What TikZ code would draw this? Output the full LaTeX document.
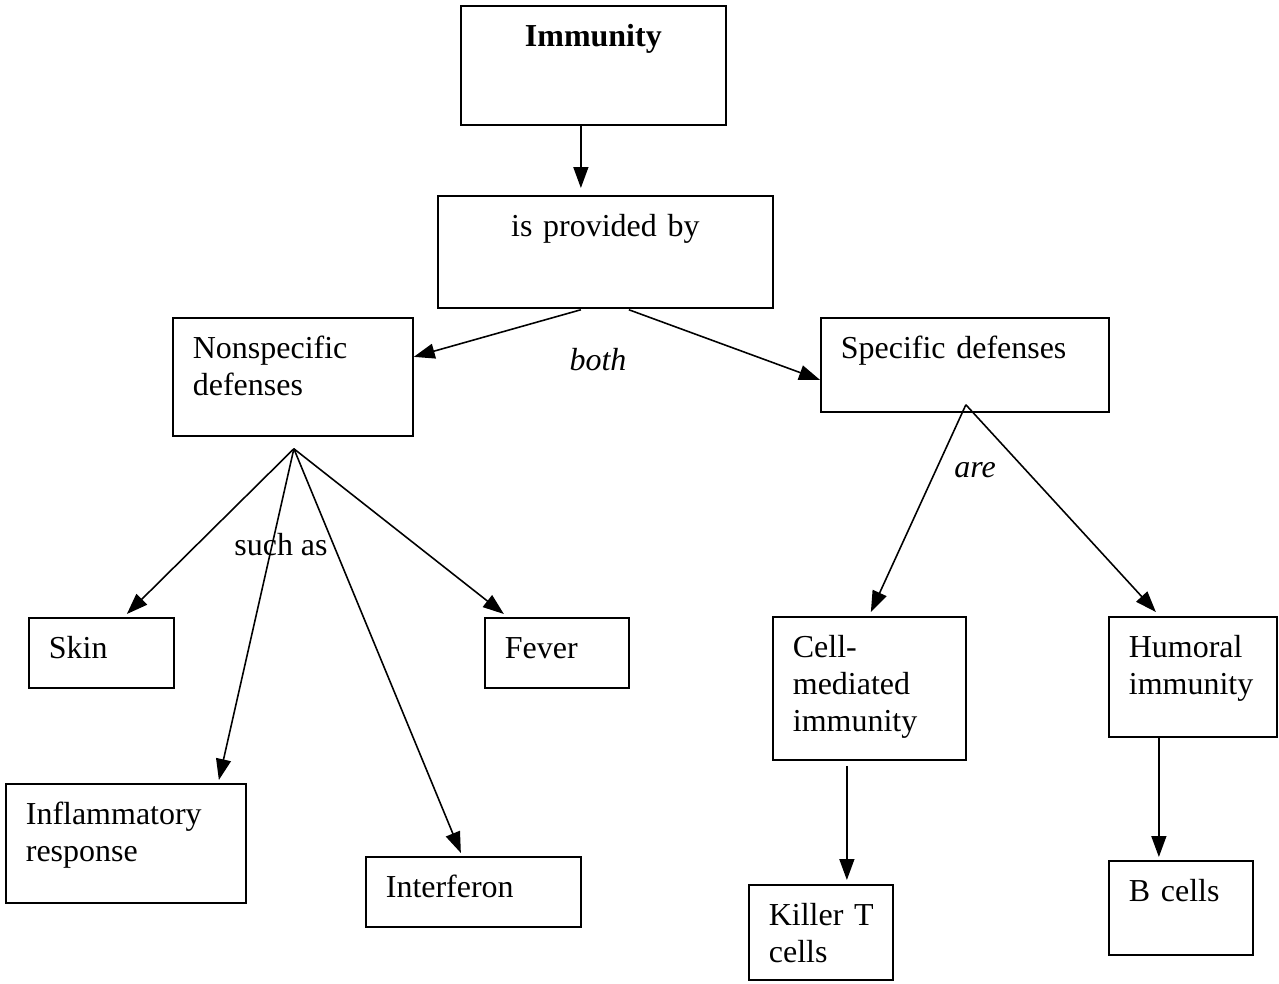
\documentclass[tikz,border=0pt]{standalone}
\usepackage{fontspec}
\setmainfont{Liberation Serif}
\usetikzlibrary{arrows.meta,calc}
\newcommand{\mybox}[7][left]{%
  \pgfmathsetlengthmacro{\tw}{(#5-40)*0.02cm}%
  \pgfmathsetlengthmacro{\td}{(#6-42)*0.02cm}%
  \node[box, align=#1, text width=\tw, text depth=\td] (#2) at (#3,#4) {#7};}
\begin{document}
\begin{tikzpicture}[x=0.02cm,y=-0.02cm,
  box/.style={draw, line width=1pt, anchor=north west, inner xsep=0.4cm, inner ysep=0pt, text height=0.82cm},
  arr/.style={line width=0.9pt, -{Triangle[length=0.42cm,width=0.3cm]}},
  lbl/.style={inner sep=0pt}]
\fontsize{18.2pt}{21pt}\selectfont
\useasboundingbox (0,0) rectangle (1279,984);
\mybox[center]{imm}{460}{5}{265}{120}{\textbf{Immunity}}
\mybox[center]{ipb}{437}{195}{335}{113}{is provided by}
\mybox{ns}{172}{317}{240}{119}{Nonspecific\\defenses}
\mybox{sp}{820}{317}{288}{95}{Specific defenses}
\mybox{skin}{28}{617}{145}{71}{Skin}
\mybox{fev}{484}{617}{144}{71}{Fever}
\mybox{inf}{5}{783}{240}{120}{Inflammatory\\response}
\mybox{itf}{365}{856}{215}{71}{Interferon}
\mybox{cell}{772}{616}{193}{144}{Cell-\\mediated\\immunity}
\mybox{hum}{1108}{616}{168}{121}{Humoral\\immunity}
\mybox{kil}{748}{884}{144}{96}{Killer~T\\cells}
\mybox{bc}{1108}{860}{144}{95}{B~cells}
% connectors
\draw[arr] ($(imm.south)+(-12.5,0)$) -- ($(ipb.north)+(-24.5,-7)$);
\draw[arr] ($(ipb.south)+(-24.5,1)$) -- ($(ns.east)+(0,-20)$);
\draw[arr] ($(ipb.south)+(23.5,1)$) -- ($(sp.west)+(0,15)$);
\coordinate (nsf) at ($(ns.south)+(1,12)$);
\draw[arr] (nsf) -- ($(skin.north)+(25.5,-3)$);
\draw[arr] (nsf) -- ($(inf.north)+(93,-3)$);
\draw[arr] (nsf) -- ($(itf.north)+(-12.5,-3)$);
\draw[arr] (nsf) -- ($(fev.north)+(-53,-3)$);
\coordinate (spf) at ($(sp.south)+(1,-8)$);
\draw[arr] (spf) -- ($(cell.north)+(1.5,-4)$);
\draw[arr] (spf) -- ($(hum.north)+(-37,-4)$);
\draw[arr] ($(cell.south)+(-22.5,5)$) -- ($(kil.north)+(26,-4)$);
\draw[arr] ($(hum.south)+(-34,0)$) -- ($(bc.north)+(-22,-3)$);
% labels
\node[lbl] (both) at (598,360) {\itshape both};
\node[lbl] (such) at (281,545) {such as};
\node[lbl] (are) at (975,470) {\itshape are};
\end{tikzpicture}
\end{document}
